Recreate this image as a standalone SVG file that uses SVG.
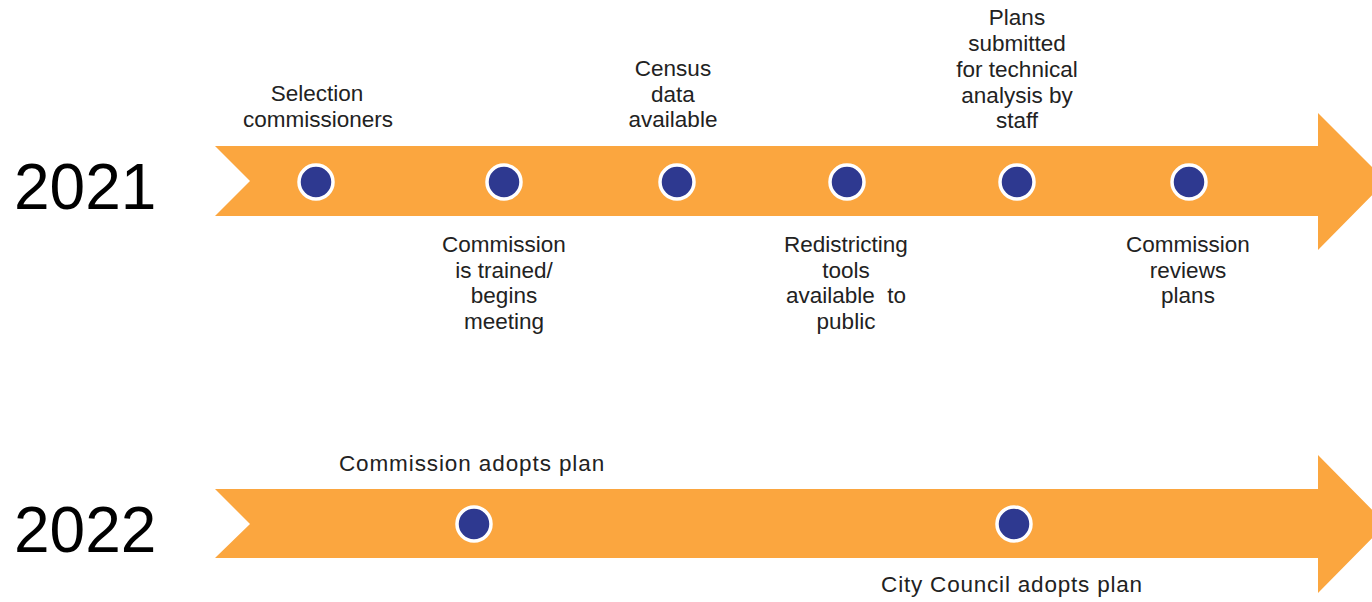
<svg xmlns="http://www.w3.org/2000/svg" width="1372" height="602" viewBox="0 0 1372 602">
<style>
.arrow{fill:#FBA63F}
.dot{fill:#2E3990;stroke:#fff;stroke-width:3.5}
.lbl{font-family:"Liberation Sans",Arial,sans-serif;font-size:22.5px;fill:#222;text-anchor:middle}
.yr{font-family:"Liberation Sans",Arial,sans-serif;font-size:64px;fill:#000}
</style>
<rect width="1372" height="602" fill="#fff"/>
<g id="connectors">
<path class="arrow" d="M215,146 L1318,146 L1318,113 L1386,181 L1318,250 L1318,216 L215,216 L250,181 Z"/>
<path class="arrow" d="M215,489 L1318,489 L1318,455 L1386,524 L1318,593 L1318,558 L215,558 L250,524 Z"/>
</g>
<g id="year2021"><text class="yr" x="14" y="209">2021</text></g>
<g id="year2022"><text class="yr" x="14" y="552">2022</text></g>
<g id="n1"><circle class="dot" cx="316" cy="182" r="17"/><text class="lbl" x="317" y="101">Selection</text><text class="lbl" x="318" y="127">commissioners</text></g>
<g id="n2"><circle class="dot" cx="504" cy="182" r="17"/><text class="lbl" x="504" y="252">Commission</text><text class="lbl" x="504" y="278">is trained/</text><text class="lbl" x="504" y="303">begins</text><text class="lbl" x="504" y="329">meeting</text></g>
<g id="n3"><circle class="dot" cx="677" cy="182" r="17"/><text class="lbl" x="673" y="76">Census</text><text class="lbl" x="673" y="102">data</text><text class="lbl" x="673" y="127">available</text></g>
<g id="n4"><circle class="dot" cx="847" cy="182" r="17"/><text class="lbl" x="846" y="252">Redistricting</text><text class="lbl" x="846" y="278">tools</text><text class="lbl" x="846" y="303" xml:space="preserve">available  to</text><text class="lbl" x="846" y="329">public</text></g>
<g id="n5"><circle class="dot" cx="1017" cy="182" r="17"/><text class="lbl" x="1017" y="25">Plans</text><text class="lbl" x="1017" y="51">submitted</text><text class="lbl" x="1017" y="77">for technical</text><text class="lbl" x="1017" y="103">analysis by</text><text class="lbl" x="1017" y="128">staff</text></g>
<g id="n6"><circle class="dot" cx="1189" cy="182" r="17"/><text class="lbl" x="1188" y="252">Commission</text><text class="lbl" x="1188" y="278">reviews</text><text class="lbl" x="1188" y="303">plans</text></g>
<g id="n7"><circle class="dot" cx="474" cy="524" r="17"/><text class="lbl" x="472" y="471" letter-spacing="0.9">Commission adopts plan</text></g>
<g id="n8"><circle class="dot" cx="1014" cy="524" r="17"/><text class="lbl" x="1012" y="592" letter-spacing="0.8">City Council adopts plan</text></g>
</svg>
